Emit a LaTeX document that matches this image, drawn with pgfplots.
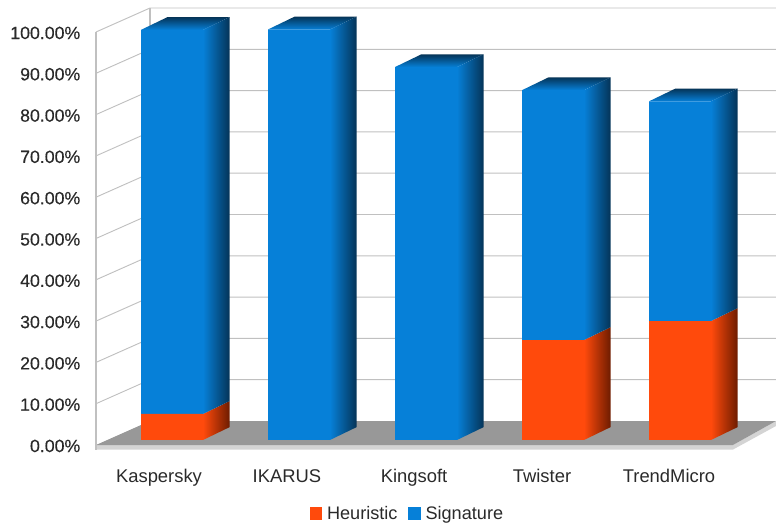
\documentclass[border=0pt]{standalone}
\usepackage{pgfplots}
\pgfplotsset{compat=1.18}
\usepackage{pgfplotstable}
\usepackage{fontspec}
\setmainfont{Liberation Sans}
\newfontfamily\semibold[FakeBold=0.35]{Liberation Sans}
\definecolor{blueF}{HTML}{0680D8}
\definecolor{blueD}{HTML}{053458}
\definecolor{redF}{HTML}{FF4A0C}
\definecolor{redD}{HTML}{6E1C00}
\definecolor{gridc}{HTML}{C0C0C0}
\definecolor{floorc}{HTML}{989898}
\definecolor{stripc}{HTML}{D4D4D4}
\definecolor{txt}{HTML}{2A2A2A}
\pgfplotstableread{
x   heur sig
172 6.3  93.0
299 0    99.4
426 0    90.3
553 24.2 60.5
680 28.8 53.2
}\barsdata
\pgfplotsset{base/.style={scale only axis,width=582pt,height=395.25pt,xmin=0,xmax=776}}
% side and top faces of one segment: left x of side, low, high
\newcommand{\sideface}[5]{%
 \addplot[draw=none,left color=#4,right color=#5,forget plot] coordinates {(#1,#2)(#1+26.5,#2+3.1)(#1+26.5,#3+3.1)(#1,#3)} --cycle;}
\newcommand{\topface}[3]{%
 \addplot[draw=none,bottom color=blueF,top color=blueD,forget plot] coordinates {(#1,#2)(#1+62,#2)(#1+88.5,#2+3.1)(#1+26.5,#2+3.1)} --cycle;}
\begin{document}
\begin{tikzpicture}
% walls, floor, scale: y in % on the front plane
\begin{axis}[base,ymin=-19.85,ymax=107.75,
  axis line style={draw=none},tick style={draw=none},
  ytick={0,10,...,100},
  yticklabels={0.00\%,10.00\%,20.00\%,30.00\%,40.00\%,50.00\%,60.00\%,70.00\%,80.00\%,90.00\%,100.00\%},
  yticklabel shift=-63.75pt,
  yticklabel style={font=\semibold\fontsize{13.3}{15}\selectfont,text=txt,anchor=east,yshift=-0.7pt},
  xtick={159,287,414,542,669},
  xticklabels={Kaspersky,IKARUS,Kingsoft,Twister,TrendMicro},
  xticklabel shift=-47pt,
  xticklabel style={font=\fontsize{13.8}{15}\selectfont,text=txt,text height=10pt,text depth=3pt},
  ]
\addplot[draw=none,fill=stripc,forget plot] coordinates {(96,0)(96,-1.1)(733,-1.1)(776,4.6)(776,5.81)(733,0)} --cycle;
\addplot[draw=none,fill=floorc,forget plot] coordinates {(96,0)(150,5.81)(776,5.81)(733,0)} --cycle;
\pgfplotsinvokeforeach{10,20,...,100}{
  \addplot[gridc,line width=0.7pt,forget plot] coordinates {(96,#1)(150,#1+5.81)(776,#1+5.81)};
}
\addplot[gridc,line width=0.9pt,forget plot] coordinates {(96,-1.1)(96,100)};
\addplot[gridc,line width=0.9pt,forget plot] coordinates {(150,5.81)(150,105.81)};
\end{axis}
% side and top faces: y in % on the bars' plane
\begin{axis}[base,ymin=-21.07,ymax=106.54,hide axis]
\sideface{203}{0}{6.3}{redF}{redD}
\sideface{203}{6.3}{99.3}{blueF}{blueD}
\topface{141}{99.3}{}
\sideface{330}{0}{99.4}{blueF}{blueD}
\topface{268}{99.4}{}
\sideface{457}{0}{90.3}{blueF}{blueD}
\topface{395}{90.3}{}
\sideface{584}{0}{24.2}{redF}{redD}
\sideface{584}{24.2}{84.7}{blueF}{blueD}
\topface{522}{84.7}{}
\sideface{711}{0}{28.8}{redF}{redD}
\sideface{711}{28.8}{82.0}{blueF}{blueD}
\topface{649}{82.0}{}
\end{axis}
% front faces
\begin{axis}[base,ymin=-21.07,ymax=106.54,hide axis,
  ybar stacked,bar width=62,
  legend columns=2,
  legend style={draw=none,fill=none,at={(0.397,0.002)},anchor=south west,
    font=\fontsize{13.6}{15}\selectfont,text=txt,
    /tikz/every even column/.style={column sep=6pt},inner sep=1pt},
  legend image code/.code={\fill[#1] (0pt,-4.5pt) rectangle (9.5pt,5pt);},
  ]
\addplot[draw=none,fill=redF] table[x=x,y=heur] {\barsdata};
\addplot[draw=none,fill=blueF] table[x=x,y=sig] {\barsdata};
\legend{\hspace*{1.5pt}Heuristic,\hspace*{1.5pt}Signature}
\end{axis}
\end{tikzpicture}
\end{document}
